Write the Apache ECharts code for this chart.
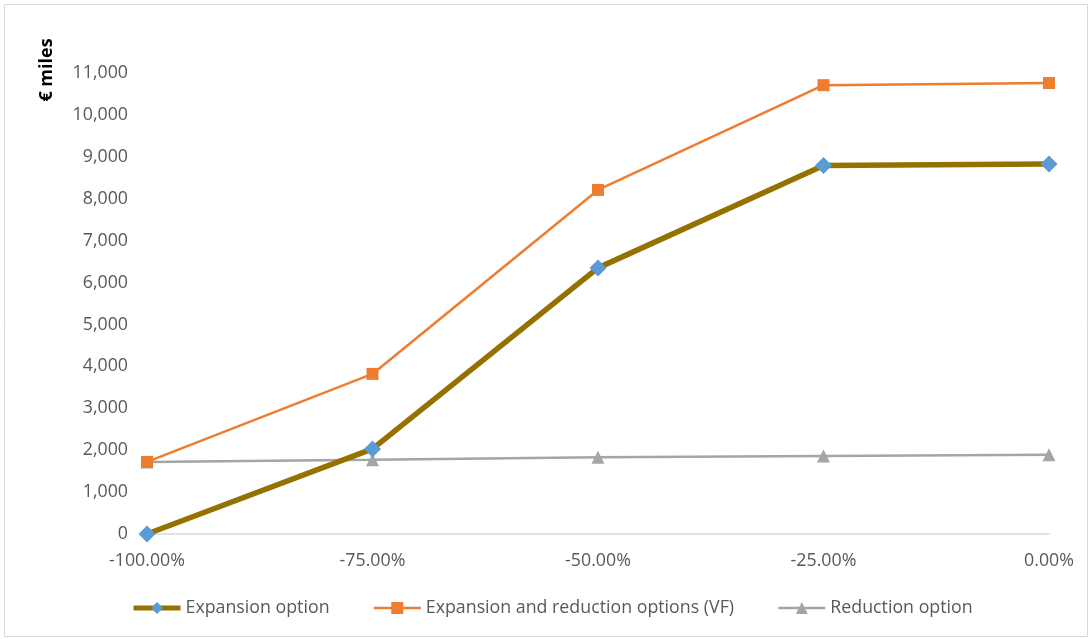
<!DOCTYPE html>
<html>
<head>
<meta charset="utf-8">
<script src="https://cdn.jsdelivr.net/npm/echarts@6/dist/echarts.min.js"></script>
<style>
  html, body { margin: 0; padding: 0; background: #fff; }
  #chart { width: 1091px; height: 639px; }
</style>
</head>
<body>
<div id="chart"></div>
<script>
// Scenario categories (change in volume)
const categories = ['-100.00%', '-75.00%', '-50.00%', '-25.00%', '0.00%'];

// Option values, € miles
const expansionOption = [0, 2030, 6350, 8790, 8830];
const expansionReductionVF = [1720, 3820, 8210, 10710, 10760];
const reductionOption = [1720, 1770, 1830, 1860, 1890];

const seriesNames = [
  'Expansion option',
  'Expansion and reduction options (VF)',
  'Reduction option'
];

const labelFont = '"Open Sans", "Noto Sans", sans-serif';

const chart = echarts.init(document.getElementById('chart'), null, { renderer: 'canvas' });

chart.setOption({
  animation: false,
  backgroundColor: '#ffffff',
  grid: { left: 147, right: 42, top: 73, bottom: 105, containLabel: false },
  graphic: [
    {
      type: 'rect',
      shape: { x: 4.5, y: 4.5, width: 1083, height: 632 },
      style: { fill: 'none', stroke: '#d9d9d9', lineWidth: 1 },
      silent: true
    },
    {
      type: 'text',
      x: 47, y: 70,
      rotation: Math.PI / 2,
      style: {
        text: '€ miles',
        font: 'bold 18px ' + labelFont,
        fill: '#000000',
        textAlign: 'center',
        textVerticalAlign: 'middle'
      }
    }
  ],
  legend: {
    bottom: 17,
    left: 126,
    itemGap: 43,
    itemWidth: 47,
    itemHeight: 15,
    textStyle: { color: '#595959', fontSize: 17.8, fontFamily: labelFont },
    data: [
      { name: seriesNames[0], lineStyle: { width: 5 } },
      { name: seriesNames[1], lineStyle: { width: 2.5 } },
      { name: seriesNames[2], lineStyle: { width: 2.5 } }
    ]
  },
  xAxis: {
    type: 'category',
    data: categories,
    boundaryGap: false,
    axisLine: { show: true, lineStyle: { color: '#d9d9d9', width: 1.5 } },
    axisTick: { show: false },
    splitLine: { show: false },
    axisLabel: { color: '#595959', fontSize: 17.8, fontFamily: labelFont, margin: 18 }
  },
  yAxis: {
    type: 'value',
    min: 0,
    max: 11000,
    interval: 1000,
    axisLine: { show: false },
    axisTick: { show: false },
    splitLine: { show: false },
    axisLabel: {
      color: '#595959', fontSize: 17.8, fontFamily: labelFont, margin: 19,
      formatter: v => v.toLocaleString('en-US')
    }
  },
  series: [
    {
      name: seriesNames[0],
      type: 'line',
      data: expansionOption,
      symbol: 'diamond',
      symbolSize: 17,
      showAllSymbol: true,
      lineStyle: { color: '#957200', width: 5.5 },
      itemStyle: { color: '#5b9bd5', borderWidth: 0 },
      color: '#957200',
      z: 4
    },
    {
      name: seriesNames[1],
      type: 'line',
      data: expansionReductionVF,
      symbol: 'rect',
      symbolSize: 12,
      showAllSymbol: true,
      lineStyle: { color: '#ed7d31', width: 2.5 },
      itemStyle: { color: '#ed7d31', borderWidth: 0 },
      color: '#ed7d31',
      z: 3
    },
    {
      name: seriesNames[2],
      type: 'line',
      data: reductionOption,
      symbol: 'triangle',
      symbolSize: 13,
      showAllSymbol: true,
      lineStyle: { color: '#a5a5a5', width: 2.5 },
      itemStyle: { color: '#a5a5a5', borderWidth: 0 },
      color: '#a5a5a5',
      z: 2
    }
  ]
});
</script>
</body>
</html>
